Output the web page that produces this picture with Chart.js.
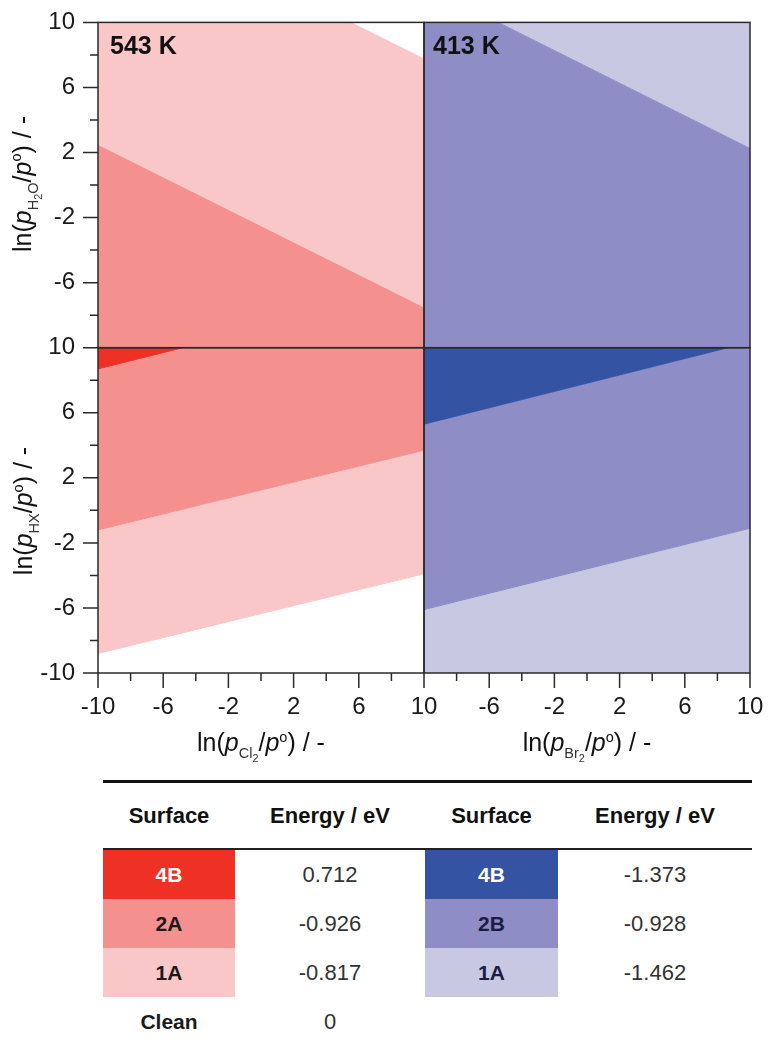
<!DOCTYPE html>
<html>
<head>
<meta charset="utf-8">
<script src="https://cdn.jsdelivr.net/npm/chart.js@4.4.0/dist/chart.umd.min.js"></script>
<style>
  body { margin: 0; background: #fff; font-family: 'Liberation Sans', Arial, sans-serif; }
  #wrap { position: relative; width: 770px; height: 1041px; overflow: hidden; }
  #phase { position: absolute; left: 0; top: 0; }
  .lbl { position: absolute; white-space: nowrap; color: #111; }
  .axt { font-size: 25px; line-height: 26px; }
  .axt sub, .axt sup { font-size: 0.58em; line-height: 0; }
  .axt sub { vertical-align: -0.45em; color: #333; }
  .axt sub sub { font-size: 0.75em; vertical-align: -0.35em; }
  .axt sup { vertical-align: 0.65em; }
  .ytitle { transform: translate(-50%, -50%) rotate(-90deg); }
  .xtitle { transform: translateX(-50%); }
  .temp { font-size: 25px; font-weight: bold; line-height: 25px; }
  #energies { position: absolute; left: 103px; top: 780px; border-collapse: collapse; table-layout: fixed; }
  #energies th { height: 65px; padding: 0; font-size: 22px; font-weight: bold; color: #111;
    border-top: 3px solid #111; border-bottom: 2px solid #222; }
  #energies td { height: 49px; padding: 0; text-align: center; }
  #energies td.sw { font-size: 21px; font-weight: bold; }
  #energies td.val { font-size: 22px; color: #333; }
</style>
</head>
<body>
<div id="wrap">
  <canvas id="phase" width="770" height="775"></canvas>

  <div class="lbl temp" style="left:110px;top:33px">543 K</div>
  <div class="lbl temp" style="left:433px;top:33px">413 K</div>

  <div class="lbl axt ytitle" style="left:23px;top:184px">ln(<i>p</i><sub>H<sub>2</sub>O</sub>/<i>p</i><sup>o</sup>) / -</div>
  <div class="lbl axt ytitle" style="left:23px;top:511px">ln(<i>p</i><sub>HX</sub>/<i>p</i><sup>o</sup>) / -</div>
  <div class="lbl axt xtitle" style="left:261px;top:729px">ln(<i>p</i><sub>Cl<sub>2</sub></sub>/<i>p</i><sup>o</sup>) / -</div>
  <div class="lbl axt xtitle" style="left:587px;top:729px">ln(<i>p</i><sub>Br<sub>2</sub></sub>/<i>p</i><sup>o</sup>) / -</div>

  <table id="energies">
    <colgroup><col style="width:132px"><col style="width:190px"><col style="width:133px"><col style="width:194px"></colgroup>
    <thead><tr><th>Surface</th><th>Energy / eV</th><th>Surface</th><th>Energy / eV</th></tr></thead>
    <tbody id="rows"></tbody>
  </table>
</div>

<script>
// axes: ln(p/p°), same range on all four panels
const axisMin = -10;
const axisMax = 10;
const tickStep = 2;
const labelledTicks = [-10, -6, -2, 2, 6, 10];

// phase regions, corner points [ln p_X2, ln p_gas]
// 543 K, Cl2 vs H2O
const clH2O_1A = [[-10, 10], [5.5, 10], [10, 7.75], [10, -7.5], [-10, 2.5]];
const clH2O_2A = [[-10, 2.5], [10, -7.5], [10, -10], [-10, -10]];
// 543 K, Cl2 vs HX
const clHX_4B = [[-10, 10], [-4.8, 10], [-10, 8.7]];
const clHX_2A = [[-4.8, 10], [10, 10], [10, 3.7], [-10, -1.2], [-10, 8.7]];
const clHX_1A = [[-10, -1.2], [10, 3.7], [10, -3.9], [-10, -8.8]];
// 413 K, Br2 vs H2O
const brH2O_2B = [[-10, 10], [-5.45, 10], [10, 2.25], [10, -10], [-10, -10]];
const brH2O_1A = [[-5.45, 10], [10, 10], [10, 2.25]];
// 413 K, Br2 vs HX
const brHX_4B = [[-10, 10], [8.65, 10], [-10, 5.3]];
const brHX_2B = [[8.65, 10], [10, 10], [10, -1.1], [-10, -6.1], [-10, 5.3]];
const brHX_1A = [[-10, -6.1], [10, -1.1], [10, -10], [-10, -10]];

// table
const clSurfaces = ['4B', '2A', '1A', 'Clean'];
const clEnergies = [0.712, -0.926, -0.817, 0];
const brSurfaces = ['4B', '2B', '1A'];
const brEnergies = [-1.373, -0.928, -1.462];

const red = { '4B': '#ee3124', '2A': '#f4918f', '1A': '#f9c7c7' };
const blue = { '4B': '#3553a3', '2B': '#8e8dc6', '1A': '#c8c8e3' };
const fontFamily = "'Liberation Sans', Arial, sans-serif";

function region(points, color, xAxisID, yAxisID) {
    return {
        data: points.map(p => ({ x: p[0], y: p[1] })),
        xAxisID: xAxisID,
        yAxisID: yAxisID,
        backgroundColor: color,
        borderColor: color,
        borderWidth: 1,
        fill: 'shape',
        pointRadius: 0,
        tension: 0
    };
}

function axis(position, weight, hideValue, size) {
    return {
        type: 'linear',
        position: position,
        stack: position,
        stackWeight: 1,
        weight: weight,
        min: axisMin,
        max: axisMax,
        grid: { drawOnChartArea: false, tickLength: 15, tickColor: 'rgba(0,0,0,0)' },
        border: { display: false },
        ticks: {
            stepSize: tickStep,
            autoSkip: false,
            maxRotation: 0,
            padding: position === 'left' ? 8 : 5,
            color: '#1a1a1a',
            font: { family: fontFamily, size: 24 },
            callback: v => (labelledTicks.includes(v) && v !== hideValue) ? String(v) : ''
        },
        afterFit: scale => {
            if (position === 'left') scale.width = size;
            else scale.height = size;
        }
    };
}

// frame around each panel plus long/short tick marks
const framePlugin = {
    id: 'frame',
    afterDatasetsDraw(chart) {
        const ctx = chart.ctx;
        const xs = [chart.scales.xL, chart.scales.xR];
        const ys = [chart.scales.yT, chart.scales.yB];
        ctx.save();
        ctx.strokeStyle = '#2a2a2a';
        ctx.lineWidth = 1.5;
        xs.forEach(sx => ys.forEach(sy => {
            ctx.strokeRect(sx.left, sy.top, sx.right - sx.left, sy.bottom - sy.top);
        }));
        ctx.beginPath();
        ys.forEach(sy => sy.ticks.forEach(t => {
            const py = sy.getPixelForValue(t.value);
            const len = labelledTicks.includes(t.value) ? 15 : 8;
            ctx.moveTo(sy.right - len, py);
            ctx.lineTo(sy.right, py);
        }));
        xs.forEach(sx => sx.ticks.forEach(t => {
            const px = sx.getPixelForValue(t.value);
            const len = labelledTicks.includes(t.value) ? 15 : 8;
            ctx.moveTo(px, sx.top);
            ctx.lineTo(px, sx.top + len);
        }));
        ctx.stroke();
        ctx.restore();
    }
};

new Chart(document.getElementById('phase'), {
    type: 'line',
    data: {
        datasets: [
            region(clH2O_1A, red['1A'], 'xL', 'yT'),
            region(clH2O_2A, red['2A'], 'xL', 'yT'),
            region(clHX_4B, red['4B'], 'xL', 'yB'),
            region(clHX_2A, red['2A'], 'xL', 'yB'),
            region(clHX_1A, red['1A'], 'xL', 'yB'),
            region(brH2O_2B, blue['2B'], 'xR', 'yT'),
            region(brH2O_1A, blue['1A'], 'xR', 'yT'),
            region(brHX_4B, blue['4B'], 'xR', 'yB'),
            region(brHX_2B, blue['2B'], 'xR', 'yB'),
            region(brHX_1A, blue['1A'], 'xR', 'yB')
        ]
    },
    options: {
        responsive: false,
        animation: false,
        events: [],
        layout: { padding: { top: 21, right: 20, left: 0, bottom: 0 } },
        plugins: { legend: { display: false }, tooltip: { enabled: false } },
        scales: {
            xL: axis('bottom', 0, null, 102),
            xR: axis('bottom', 1, -10, 102),
            yT: axis('left', 1, -10, 98),
            yB: axis('left', 0, null, 98)
        }
    },
    plugins: [framePlugin]
});

// energy table
const rows = document.getElementById('rows');
clSurfaces.forEach((s, i) => {
    const tr = document.createElement('tr');
    const cells = [
        [s, 'sw', red[s], s === '4B' ? '#fff' : '#1a1a1a'],
        [String(clEnergies[i]), 'val', null, null],
        [brSurfaces[i] || '', 'sw', blue[brSurfaces[i]], brSurfaces[i] === '4B' ? '#fff' : '#1c1c44'],
        [brEnergies[i] !== undefined ? String(brEnergies[i]) : '', 'val', null, null]
    ];
    cells.forEach(c => {
        const td = document.createElement('td');
        td.textContent = c[0];
        td.className = c[1];
        if (c[2]) td.style.background = c[2];
        if (c[3]) td.style.color = c[3];
        tr.appendChild(td);
    });
    rows.appendChild(tr);
});
</script>
</body>
</html>
